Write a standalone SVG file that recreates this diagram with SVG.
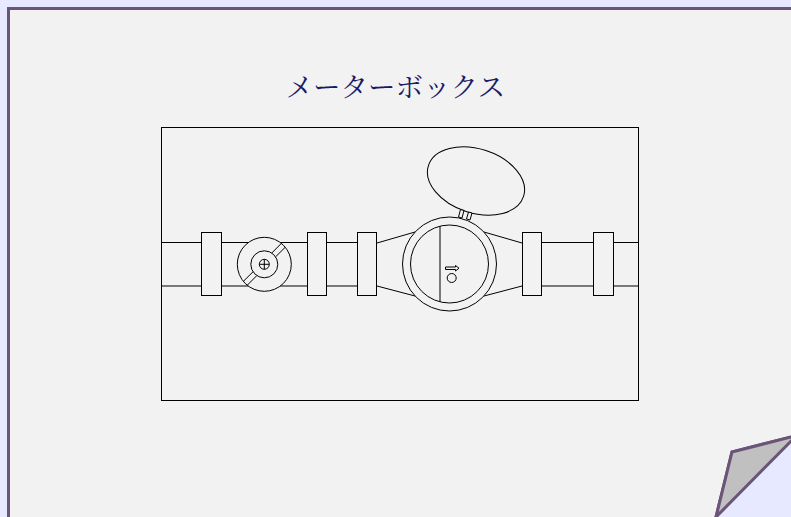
<svg xmlns="http://www.w3.org/2000/svg" width="791" height="517" viewBox="0 0 791 517">
<style>
.l{fill:none;stroke:#000;stroke-width:1}
.b{fill:#f2f2f2;stroke:#000;stroke-width:1}
.p{stroke:#6b5478;stroke-width:3;stroke-linejoin:miter}
</style>
<rect width="791" height="517" fill="#e6e9ff"/>
<path class="p" d="M8.500 530V8.500H800V434.700L732 452L716 517L708 530Z" fill="#f2f2f2"/>
<path class="p" d="M800 434.700L732 452L716 517L800 432Z" fill="#c0c0c0"/>
<text x="395.500" y="97" text-anchor="middle" font-size="27.500" fill="#1a1a66" font-family="'Noto Serif CJK JP','Liberation Serif','Noto Sans CJK JP',serif">メーターボックス</text>
<g id="box"><rect class="l" x="161.500" y="127.500" width="477" height="273"/></g>
<g id="connectors">
<path class="l" d="M162 242.500H201M221 242.500H307M327 242.500H357M162 286H201M221 286H307M327 286H357M542 242.500H593M614 242.500H639M542 286H593M614 286H639"/>
<path class="l" d="M377 243L415 232M377 286L415 296M484 232L522 243M484 296L522 286"/>
</g>
<g id="flanges">
<rect class="b" x="201.500" y="232.500" width="20" height="63"/>
<rect class="b" x="307.500" y="232.500" width="19" height="63"/>
<rect class="b" x="357.500" y="232.500" width="19" height="63"/>
<rect class="b" x="522.500" y="232.500" width="19" height="63"/>
<rect class="b" x="593.500" y="232.500" width="20" height="63"/>
</g>
<g id="valve">
<circle class="b" cx="264.300" cy="264.300" r="27"/>
<circle class="l" cx="264.300" cy="264.300" r="13.500"/>
<path class="l" d="M271.800 253L281.300 243.400M275.600 256.800L285.200 247.300M256.800 275.600L247.300 285.200M253 271.800L243.400 281.300"/>
<circle class="l" cx="264.300" cy="264.300" r="5"/>
<path class="l" d="M259.300 264.300H269.300M264.300 259.300V269.300"/>
</g>
<g id="meter">
<circle class="b" cx="449.500" cy="264" r="47"/>
<circle class="l" cx="449.500" cy="264" r="39"/>
<path class="l" d="M440 226V302"/>
<path class="l" d="M445.500 267H455.500V265.500L459 268.200L455.500 271V269.500H445.500Z"/>
<circle class="l" cx="451.700" cy="278" r="4.500"/>
</g>
<g id="lid">
<ellipse class="b" cx="476" cy="181" rx="50" ry="32" transform="rotate(18 476 181)"/>
<path class="b" d="M460.500 209.500L464 210.500L462 218L458.500 217ZM468.500 212L472 213L470 220L466.500 219Z"/>
</g>
</svg>
